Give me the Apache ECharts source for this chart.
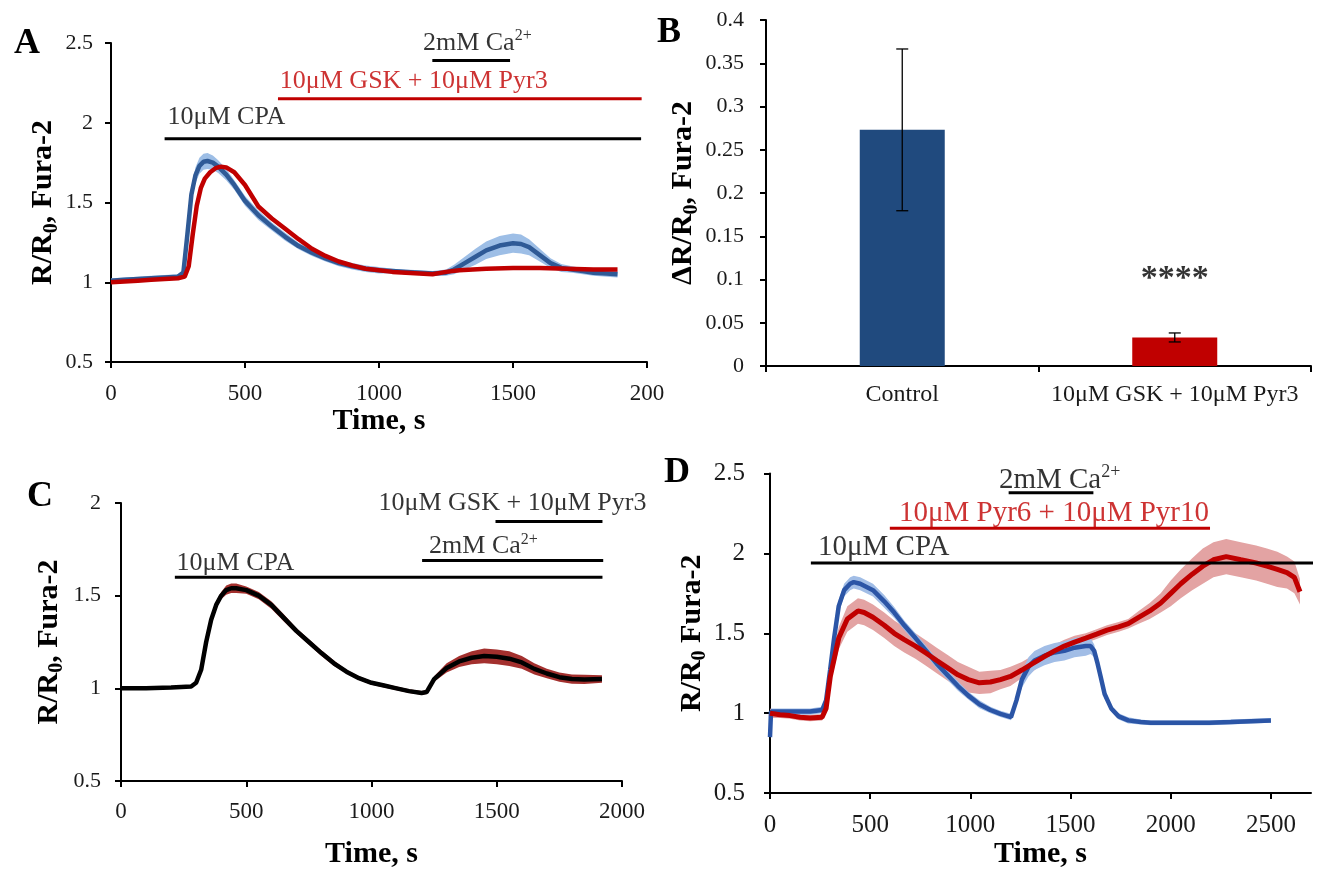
<!DOCTYPE html>
<html><head><meta charset="utf-8">
<script src="https://cdn.jsdelivr.net/npm/echarts@6/dist/echarts.min.js"></script>
<style>html,body{margin:0;padding:0;background:#fff}#c{width:1328px;height:870px}</style>
</head><body><div id="c"></div>
<script>
// ---------- Panel A data ----------
const aBlueTime = [0,50,100,150,200,250,270,285,300,315,330,345,360,380,400,430,460,500,550,600,650,700,750,800,850,900,950,1000,1050,1100,1150,1200,1250,1280,1320,1360,1400,1450,1500,1530,1560,1600,1640,1680,1720,1760,1800,1850,1890];
const aBlueMean = [1.01,1.015,1.02,1.025,1.03,1.035,1.06,1.3,1.55,1.67,1.73,1.755,1.76,1.75,1.725,1.675,1.61,1.51,1.42,1.35,1.285,1.227,1.185,1.15,1.12,1.10,1.085,1.075,1.07,1.065,1.06,1.055,1.06,1.08,1.12,1.16,1.2,1.23,1.245,1.24,1.22,1.17,1.12,1.09,1.08,1.07,1.06,1.055,1.05];
const aBlueSem = [0.015,0.015,0.015,0.015,0.015,0.015,0.02,0.04,0.05,0.05,0.05,0.05,0.05,0.045,0.04,0.035,0.03,0.03,0.03,0.025,0.025,0.02,0.02,0.02,0.02,0.02,0.02,0.02,0.015,0.015,0.015,0.015,0.02,0.03,0.04,0.05,0.055,0.06,0.06,0.06,0.05,0.04,0.03,0.025,0.02,0.02,0.02,0.02,0.02];
const aRedTime = [0,50,100,150,200,250,275,290,305,320,335,350,370,390,410,430,460,500,550,600,650,700,750,800,850,900,950,1000,1050,1100,1150,1200,1250,1300,1400,1500,1600,1700,1800,1890];
const aRedMean = [1.0,1.005,1.01,1.015,1.02,1.025,1.035,1.1,1.3,1.48,1.59,1.65,1.69,1.715,1.725,1.72,1.69,1.61,1.475,1.40,1.335,1.27,1.21,1.165,1.13,1.105,1.085,1.075,1.065,1.06,1.055,1.05,1.065,1.075,1.085,1.09,1.09,1.085,1.08,1.08];
const aAnnLabels = ['10μM CPA','10μM GSK + 10μM Pyr3','2mM Ca2+'];
const aAnnStart = [200,623,1199];
const aAnnEnd = [1978,1980,1489];
const aAnnLevel = [1.9,2.15,2.39];
const aAnnColor = ['#000000','#C00000','#000000'];

// ---------- Panel B data ----------
const bCategories = ['Control','10μM GSK + 10μM Pyr3'];
const bMeans = [0.273,0.033];
const bErrors = [0.0935,0.0052];
const bColors = ['#204A7E','#C00000'];
const bSignif = ['','****'];

// ---------- Panel C data ----------
const cTime = [0,100,200,280,300,320,340,360,380,400,420,440,460,500,550,600,650,700,750,800,850,900,950,1000,1050,1100,1150,1200,1220,1250,1300,1350,1400,1450,1500,1550,1600,1650,1700,1750,1800,1850,1920];
const cMean = [1.0,1.0,1.005,1.01,1.03,1.1,1.25,1.37,1.45,1.5,1.53,1.54,1.54,1.53,1.5,1.45,1.38,1.31,1.25,1.19,1.135,1.09,1.055,1.03,1.015,1.0,0.985,0.975,0.98,1.05,1.11,1.145,1.165,1.175,1.17,1.16,1.14,1.105,1.08,1.06,1.05,1.048,1.05];
const cSem = [0.005,0.005,0.005,0.008,0.01,0.015,0.02,0.02,0.02,0.02,0.025,0.025,0.025,0.02,0.02,0.02,0.02,0.015,0.015,0.015,0.015,0.01,0.01,0.01,0.01,0.01,0.01,0.01,0.01,0.015,0.025,0.03,0.035,0.04,0.04,0.04,0.035,0.03,0.025,0.025,0.025,0.025,0.02];
const cAnnLabels = ['10μM CPA','2mM Ca2+','10μM GSK + 10μM Pyr3'];
const cAnnStart = [215,1202,1495];
const cAnnEnd = [1922,1925,1922];
const cAnnLevel = [1.6,1.69,1.9];
const cAnnColor = ['#000000','#000000','#000000'];

// ---------- Panel D data ----------
const dBlueTime = [0,5,100,200,260,280,300,320,343,370,400,418,450,514,570,620,670,726,780,832,885,938,990,1045,1100,1150,1203,1230,1257,1290,1320,1370,1420,1469,1520,1576,1600,1618,1635,1650,1670,1703,1740,1788,1850,1900,2000,2100,2192,2300,2400,2500];
const dBlueMean = [0.85,1.01,1.01,1.01,1.02,1.08,1.27,1.47,1.67,1.77,1.81,1.82,1.81,1.77,1.70,1.63,1.55,1.47,1.39,1.31,1.24,1.17,1.11,1.056,1.02,0.996,0.976,1.08,1.21,1.29,1.33,1.36,1.38,1.39,1.41,1.42,1.42,1.39,1.31,1.23,1.12,1.03,0.98,0.955,0.945,0.94,0.94,0.94,0.94,0.945,0.95,0.955];
const dBlueSem = [0.02,0.02,0.02,0.02,0.02,0.02,0.03,0.04,0.04,0.04,0.04,0.04,0.04,0.04,0.04,0.035,0.03,0.03,0.03,0.03,0.03,0.03,0.025,0.025,0.02,0.02,0.02,0.03,0.05,0.06,0.06,0.06,0.06,0.06,0.06,0.06,0.05,0.04,0.03,0.03,0.03,0.02,0.02,0.02,0.015,0.015,0.015,0.015,0.015,0.015,0.015,0.015];
const dRedTime = [0,50,100,150,200,260,280,301,343,386,439,470,514,570,620,670,726,780,832,885,938,990,1045,1100,1150,1200,1257,1310,1363,1420,1469,1520,1576,1630,1682,1740,1788,1840,1895,1950,2000,2050,2107,2160,2213,2277,2350,2426,2480,2532,2580,2617,2645];
const dRedMean = [1.0,0.99,0.985,0.975,0.97,0.975,1.03,1.23,1.47,1.59,1.64,1.63,1.60,1.55,1.50,1.46,1.42,1.375,1.33,1.285,1.24,1.21,1.19,1.195,1.21,1.23,1.27,1.31,1.35,1.39,1.42,1.445,1.47,1.495,1.52,1.54,1.56,1.60,1.64,1.69,1.75,1.81,1.87,1.92,1.96,1.98,1.96,1.94,1.92,1.90,1.88,1.85,1.76];
const dRedSem = [0.03,0.02,0.02,0.02,0.02,0.02,0.03,0.05,0.07,0.08,0.08,0.08,0.08,0.08,0.08,0.08,0.08,0.08,0.08,0.08,0.08,0.08,0.07,0.07,0.06,0.06,0.05,0.05,0.04,0.04,0.04,0.04,0.03,0.03,0.03,0.03,0.03,0.04,0.05,0.06,0.08,0.09,0.1,0.11,0.11,0.11,0.11,0.11,0.11,0.11,0.1,0.1,0.08];
const dAnnLabels = ['10μM CPA','10μM Pyr6 + 10μM Pyr10','2mM Ca2+'];
const dAnnStart = [204,598,1191];
const dAnnEnd = [2782,2196,1614];
const dAnnLevel = [1.94,2.158,2.38];
const dAnnColor = ['#000000','#C00000','#000000'];

// ---------- layout (not data) ----------
const FONT = "'Liberation Serif','Times New Roman',serif";
const grids = [
  {left:111, top:43, width:536, height:319},
  {left:766, top:20, width:545, height:346},
  {left:121, top:503, width:501, height:285},
  {left:770, top:473.5, width:541, height:330}
];
const aTextPos = [[209,2.035],[628,2.26],[1162,2.50]];
const cTextPos = [[220,1.675],[1228,1.766],[1026,2.0]];
const dTextPos = [[237,2.036],[641,2.248],[1140,2.46]];

const plainNum = v => String(+(+v).toFixed(4));

function yNameRich(fs){
  return {
    b:{fontFamily:FONT,fontSize:fs,fontWeight:'bold',color:'#000',lineHeight:fs+6},
    s:{fontFamily:FONT,fontSize:Math.round(fs*0.65),fontWeight:'bold',color:'#000',lineHeight:fs+6,verticalAlign:'bottom'}
  };
}
function valueAxis(gi,min,max,interval,o){
  return {
    type:'value',gridIndex:gi,min:min,max:max,interval:interval,
    axisLine:{show:true,onZero:false,lineStyle:{color:'#000',width:2}},
    axisTick:{show:true,inside:false,length:6,lineStyle:{color:'#000',width:2}},
    axisLabel:{color:'#1a1a1a',fontFamily:FONT,fontSize:o.fs,margin:o.margin,formatter:o.fmt||plainNum,showMaxLabel:o.showMax!==false},
    splitLine:{show:false},
    name:o.name,nameLocation:'middle',nameGap:o.gap,nameRotate:o.rot||0,
    nameTextStyle:o.rich?{rich:o.rich}:{fontFamily:FONT,fontSize:30,fontWeight:'bold',color:'#000'}
  };
}
function lineSeries(gi,t,m,color,w,z){
  return {type:'line',xAxisIndex:gi,yAxisIndex:gi,data:t.map((x,i)=>[x,m[i]]),symbol:'none',
    lineStyle:{color:color,width:w},itemStyle:{color:color},z:z,silent:true,animation:false,clip:true};
}
function bandSeries(gi,t,m,s,color,z){
  const lo = t.map((x,i)=>[x,m[i]-s[i]]);
  const hi = t.map((x,i)=>[x,m[i]+s[i]]);
  return {type:'custom',xAxisIndex:gi,yAxisIndex:gi,data:t.map((x,i)=>[x,m[i]]),z:z,silent:true,animation:false,clip:true,
    renderItem:function(params,api){
      if(params.dataIndex!==0) return null;
      const pts = lo.map(p=>api.coord(p)).concat(hi.slice().reverse().map(p=>api.coord(p)));
      return {type:'polygon',shape:{points:pts},style:{fill:color}};
    }};
}
function richText(s){
  const m = s.match(/^(.*Ca)(2\+)$/);
  return m ? '{n|'+m[1]+'}{sup|'+m[2]+'}' : '{n|'+s+'}';
}
function annSeries(gi,labels,starts,ends,levels,colors,pos,fs){
  const out=[];
  labels.forEach((lab,i)=>{
    out.push({type:'line',xAxisIndex:gi,yAxisIndex:gi,data:[[starts[i],levels[i]],[ends[i],levels[i]]],symbol:'none',clip:false,silent:true,animation:false,
      lineStyle:{color:colors[i],width:3},z:8});
    out.push({type:'scatter',xAxisIndex:gi,yAxisIndex:gi,data:[pos[i]],symbol:'circle',symbolSize:1,itemStyle:{color:'rgba(0,0,0,0)'},silent:true,animation:false,clip:false,z:9,
      label:{show:true,position:'right',distance:0,formatter:richText(lab),
        rich:{n:{fontFamily:FONT,fontSize:fs,color:colors[i],lineHeight:fs+4},
              sup:{fontFamily:FONT,fontSize:Math.round(fs*0.62),color:colors[i],lineHeight:fs+4,verticalAlign:'top'}}}});
  });
  return out;
}

const series = [];
// A
series.push(bandSeries(0,aBlueTime,aBlueMean,aBlueSem,'#9DBEE6',2));
series.push(lineSeries(0,aBlueTime,aBlueMean,'#2F5A96',4.5,3));
series.push(lineSeries(0,aRedTime,aRedMean,'#C00000',4.5,4));
series.push(...annSeries(0,aAnnLabels,aAnnStart,aAnnEnd,aAnnLevel,aAnnColor,aTextPos,26));
// B
series.push({type:'bar',xAxisIndex:1,yAxisIndex:1,barWidth:85,animation:false,silent:true,
  data:bMeans.map((v,i)=>({value:v,itemStyle:{color:bColors[i]}}))});
series.push({type:'custom',xAxisIndex:1,yAxisIndex:1,z:10,animation:false,silent:true,
  data:bMeans.map((v,i)=>[i,v-bErrors[i],v+bErrors[i]]),encode:{x:0,y:[1,2]},
  renderItem:function(params,api){
    const x=api.value(0);
    const lo=api.coord([x,api.value(1)]), hi=api.coord([x,api.value(2)]);
    const w=6, st={stroke:'#000',lineWidth:1.3};
    return {type:'group',children:[
      {type:'line',shape:{x1:lo[0],y1:lo[1],x2:hi[0],y2:hi[1]},style:st},
      {type:'line',shape:{x1:hi[0]-w,y1:hi[1],x2:hi[0]+w,y2:hi[1]},style:st},
      {type:'line',shape:{x1:lo[0]-w,y1:lo[1],x2:lo[0]+w,y2:lo[1]},style:st}
    ]};
  }});
series.push({type:'scatter',xAxisIndex:1,yAxisIndex:1,symbolSize:1,itemStyle:{color:'rgba(0,0,0,0)'},silent:true,animation:false,z:11,
  data:bSignif.map((s,i)=>s?{value:[i,0.1],name:s}:null).filter(Boolean),
  label:{show:true,position:'inside',formatter:p=>p.name,fontFamily:FONT,fontSize:34,fontWeight:'bold',color:'#000'}});
// C
series.push(bandSeries(2,cTime,cMean,cSem,'#A3302E',2));
series.push(lineSeries(2,cTime,cMean,'#000000',4.5,3));
series.push(...annSeries(2,cAnnLabels,cAnnStart,cAnnEnd,cAnnLevel,cAnnColor,cTextPos,26));
// D
series.push(bandSeries(3,dRedTime,dRedMean,dRedSem,'#E3A3A3',1));
series.push(bandSeries(3,dBlueTime,dBlueMean,dBlueSem,'#A1BDE6',2));
series.push(lineSeries(3,dBlueTime,dBlueMean,'#2B55A6',4.5,3));
series.push(lineSeries(3,dRedTime,dRedMean,'#C00000',5,4));
series.push(...annSeries(3,dAnnLabels,dAnnStart,dAnnEnd,dAnnLevel,dAnnColor,dTextPos,29));

const xAxes = [
  valueAxis(0,0,2000,500,{fs:23,margin:20,name:'Time, s',gap:33,fmt:v=>v===2000?'200':plainNum(v)}),
  {type:'category',gridIndex:1,data:bCategories,
    axisLine:{show:true,lineStyle:{color:'#000',width:2}},
    axisTick:{show:true,length:6,alignWithLabel:false,lineStyle:{color:'#000',width:2}},
    axisLabel:{color:'#1a1a1a',fontFamily:FONT,fontSize:24,margin:17,interval:0,hideOverlap:false}},
  valueAxis(2,0,2000,500,{fs:23,margin:19,name:'Time, s',gap:58}),
  valueAxis(3,0,2700,500,{fs:25,margin:20,name:'Time, s',gap:40,showMax:false})
];
const yAxes = [
  valueAxis(0,0.5,2.5,0.5,{fs:22,margin:18,name:'{b|R/R}{s|0}{b|, Fura-2}',gap:45,rot:90,rich:yNameRich(30)}),
  valueAxis(1,0,0.4,0.05,{fs:22,margin:22,name:'{b|ΔR/R}{s|0}{b|, Fura-2}',gap:53,rot:90,rich:yNameRich(30)}),
  valueAxis(2,0.5,2,0.5,{fs:22,margin:20,name:'{b|R/R}{s|0}{b|, Fura-2}',gap:54,rot:90,rich:yNameRich(30)}),
  valueAxis(3,0.5,2.5,0.5,{fs:25,margin:25,name:'{b|R/R}{s|0}{b| Fura-2}',gap:46,rot:90,rich:yNameRich(30)})
];

const letters = [['A',27,44],['B',669,33],['C',40,497],['D',677,473]];
const chart = echarts.init(document.getElementById('c'));
chart.setOption({
  backgroundColor:'#ffffff',
  animation:false,
  textStyle:{fontFamily:FONT},
  grid:grids,
  xAxis:xAxes,
  yAxis:yAxes,
  series:series,
  graphic:letters.map(l=>({type:'text',x:l[1],y:l[2],silent:true,
    style:{text:l[0],fontFamily:FONT,fontSize:36,fontWeight:'bold',fill:'#000',align:'center',verticalAlign:'middle',textAlign:'center',textVerticalAlign:'middle'}}))
});
</script></body></html>
